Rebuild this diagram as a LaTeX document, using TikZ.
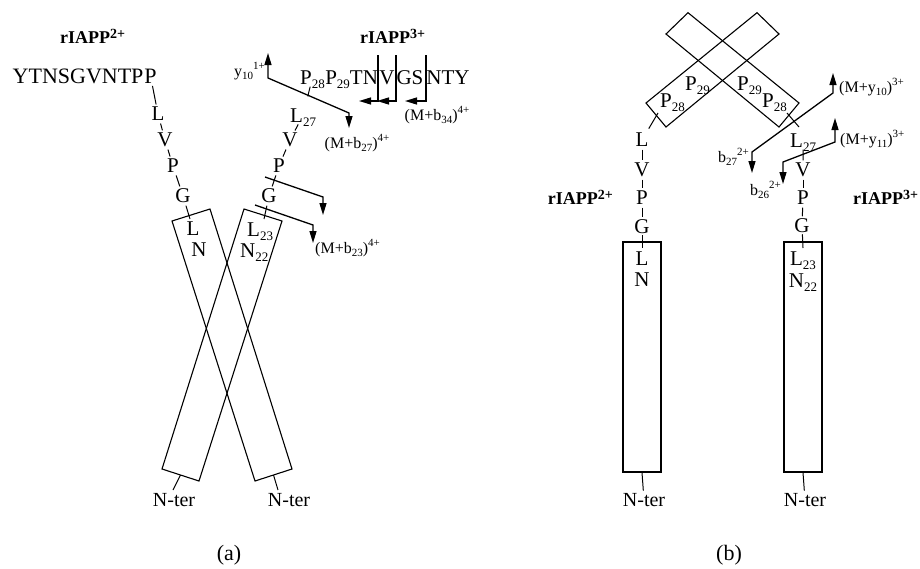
\documentclass[tikz,border=0pt]{standalone}
\usepackage{fontspec}
\setmainfont{Liberation Serif}
\usetikzlibrary{arrows.meta}
\newcommand\resfont{\fontsize{21}{24}\selectfont}
\newcommand\labfont{\fontsize{16}{18}\selectfont}
\newcommand\titfont{\fontsize{18}{20}\selectfont\bfseries}
\newcommand\rsub[1]{\raisebox{-4pt}{\fontsize{13}{13}\selectfont #1}}
\newcommand\lsub[1]{\raisebox{-3pt}{\fontsize{11}{11}\selectfont #1}}
\newcommand\lsup[1]{\raisebox{7pt}{\fontsize{11}{11}\selectfont #1}}
\newcommand\tsup[1]{\raisebox{5pt}{\fontsize{14}{14}\selectfont\bfseries #1}}
\tikzset{
 res/.style={inner sep=0pt, font=\resfont},
 seqtext/.style={inner sep=0pt, font=\fontsize{22}{24}\selectfont},
 ntr/.style={inner sep=0pt, font=\fontsize{20}{22}\selectfont},
 lab/.style={inner sep=0pt, font=\labfont},
 tit/.style={inner sep=0pt, font=\titfont},
 captext/.style={inner sep=0pt, font=\fontsize{22}{24}\selectfont},
 bond/.style={line width=1pt, shorten <=2.5pt, shorten >=2.5pt},
 boxline/.style={line width=1.1pt, line join=miter},
 rbox/.style={draw, line width=1.1pt, minimum width=38pt, minimum height=230pt, inner sep=0pt},
 frag/.style={line width=1.3pt, -{Triangle[length=12pt,width=7pt]}},
 fragtwo/.style={line width=1.3pt, {Triangle[length=12pt,width=7pt]}-{Triangle[length=12pt,width=7pt]}},
}
\begin{document}
\begin{tikzpicture}[x=1pt,y=-1pt]
\useasboundingbox (0,0) rectangle (920,568);
% ================= (a) =================
\node[tit, anchor=base west] (t2a) at (60,43) {rIAPP\tsup{2+}};
\node[tit, anchor=base west] (t3a) at (360,43) {rIAPP\tsup{3+}};
% left chain
\node[seqtext] (pa) at (150.5,76) {P};
\node[seqtext, anchor=base east] (seqa) at ([xshift=-0.5pt]pa.base west) {YTNSGVNTP};
\node[res] (la) at (158,114) {L};
\node[res] (va) at (165,140) {V};
\node[res] (ppa) at (173,166) {P};
\node[res] (ga) at (183,196) {G};
\draw[bond] (pa) -- (la);
\draw[bond] (la) -- (va);
\draw[bond] (va) -- (ppa);
\draw[bond] (ppa) -- (ga);
% boxes
\draw[boxline] (172,221) -- (210,209) -- (292,469) -- (255,481) -- cycle;
\coordinate (lbtop) at (190,219);
\coordinate (lbbot) at (273.5,475);
\draw[boxline] (244,209) -- (282,221) -- (199,481) -- (162,469) -- cycle;
\coordinate (rbtop) at (264,219);
\coordinate (rbbot) at (180.5,475);
\draw[bond, shorten >=0pt] (ga) -- (lbtop);
\node[res] (lin) at (193,229) {L};
\node[res] (nin) at (199,250) {N};
\node[res, anchor=base west, text depth=0pt] (l23a) at (247,236) {L\rsub{23}};
\node[res, anchor=base west, text depth=0pt] (n22a) at (240,257) {N\rsub{22}};
% N-ter
\node[ntr] (nt1) at (174,500) {N-ter};
\node[ntr] (nt2) at (289,500) {N-ter};
\coordinate (nt1t) at (173,490);
\coordinate (nt2t) at (278,490);
\draw[line width=1pt] (rbbot) -- (nt1t);
\draw[line width=1pt] (lbbot) -- (nt2t);
\node[captext] (capa) at (229,555) {(a)};
% right chain
\node[res] (gb) at (269,196) {G};
\node[res] (pb) at (279,166) {P};
\node[res] (vb) at (290,140) {V};
\node[res, anchor=base west, text depth=0pt] (lb) at (290,122) {L\rsub{27}};
\node[res, anchor=base west, text depth=0pt] (p28) at (300,84) {P\rsub{28}};
\node[res, anchor=base west, text depth=0pt] (s1) at (p28.base east) {P\rsub{29}TN};
\node[res, anchor=base] (s2) at (387,84) {V};
\node[res, anchor=base] (s3) at (410,84) {GS};
\node[res, anchor=base] (s4) at (448,84) {NTY};
\draw[bond, shorten >=0pt] (gb) -- (rbtop);
\draw[bond] (gb) -- (pb);
\draw[bond] (pb) -- (vb);
\draw[bond] (vb) -- (lb);
\draw[bond, shorten <=12pt] (lb) -- (p28);
% fragment markers (a)
\coordinate (f1a) at (268,53);
\coordinate (f1b) at (268,78);
\coordinate (f1c) at (349,113);
\coordinate (f1d) at (349,128);
\draw[fragtwo] (f1a) -- (f1b) -- (f1c) -- (f1d);
\node[lab, anchor=base east] (y10) at (265,76) {y\lsub{10}\lsup{1+}};
\node[lab, anchor=base] (mb27) at (357,148) {(M+b\lsub{27})\lsup{4+}};
\coordinate (v1t) at (378,55); \coordinate (v1e) at (359,101);
\coordinate (v2t) at (396,55); \coordinate (v2e) at (377,101);
\coordinate (v3t) at (426,55); \coordinate (v3e) at (405,101);
\draw[frag] (v1t) |- (v1e);
\draw[frag] (v2t) |- (v2e);
\draw[frag] (v3t) |- (v3e);
\node[lab, anchor=base] (mb34) at (437,120) {(M+b\lsub{34})\lsup{4+}};
\coordinate (f2a) at (265,177); \coordinate (f2b) at (323,197); \coordinate (f2c) at (323,215);
\draw[frag] (f2a) -- (f2b) -- (f2c);
\coordinate (f3a) at (255,205); \coordinate (f3b) at (313,225); \coordinate (f3c) at (313,243);
\draw[frag] (f3a) -- (f3b) -- (f3c);
\node[lab, anchor=base west] (mb23) at (315,253) {(M+b\lsub{23})\lsup{4+}};
% ================= (b) =================
\draw[boxline] (646,103) -- (666,127) -- (779,34) -- (757,12.7) -- cycle;
\draw[boxline] (799,103) -- (779,127) -- (666,34) -- (688,12.7) -- cycle;
\node[res, anchor=base west, text depth=0pt] (p28l) at (660,107) {P\rsub{28}};
\node[res, anchor=base west, text depth=0pt] (p29l) at (685,90) {P\rsub{29}};
\node[res, anchor=base west, text depth=0pt] (p29r) at (737,90) {P\rsub{29}};
\node[res, anchor=base west, text depth=0pt] (p28r) at (762,107) {P\rsub{28}};
% left chain (b)
\coordinate (r1in) at (658,113);
\node[res] (lc) at (642,140) {L};
\node[res] (vc) at (642,170) {V};
\node[res] (pc) at (642,198) {P};
\node[res] (gc) at (642,227) {G};
\draw[bond, shorten <=0pt, shorten >=5pt] (r1in) -- (lc);
\draw[bond] (lc) -- (vc);
\draw[bond] (vc) -- (pc);
\draw[bond] (pc) -- (gc);
\node[rbox] (boxc) at (642,357) {};
\coordinate (gct) at (642,248);
\draw[bond, shorten >=0pt, shorten <=1pt] (gc) -- (gct);
\node[res] (lin2) at (642,258.5) {L};
\node[res] (nin2) at (642,280) {N};
\node[ntr] (nt3) at (644,500) {N-ter};
\draw[bond, shorten <=0pt] (boxc.south) -- (nt3);
\node[tit, anchor=base east] (t2b) at (613,204) {rIAPP\tsup{2+}};
% right chain (b)
\coordinate (r2in) at (787,113);
\coordinate (r2out) at (799,127);
\draw[line width=1pt] (r2in) -- (r2out);
\node[res, anchor=base west, text depth=0pt] (ld) at (790,147) {L\rsub{27}};
\node[res] (vd) at (803,170) {V};
\node[res] (pd) at (803,198) {P};
\node[res] (gd) at (802,226) {G};
\draw[bond] (ld) -- (vd);
\draw[bond] (vd) -- (pd);
\draw[bond] (pd) -- (gd);
\node[rbox] (boxd) at (803,357) {};
\coordinate (gdt) at (803,248);
\draw[bond, shorten >=0pt, shorten <=1pt] (gd) -- (gdt);
\node[res, anchor=base, text depth=0pt] (l23b) at (803,265) {L\rsub{23}};
\node[res, anchor=base, text depth=0pt] (n22b) at (803,287) {N\rsub{22}};
\node[ntr] (nt4) at (805,500) {N-ter};
\draw[bond, shorten <=0pt] (boxd.south) -- (nt4);
\node[tit, anchor=base west] (t3b) at (853,204) {rIAPP\tsup{3+}};
% fragment arrows (b)
\coordinate (g1a) at (833,73); \coordinate (g1b) at (833,93);
\coordinate (g1c) at (752,152); \coordinate (g1d) at (752,173);
\draw[fragtwo] (g1a) -- (g1b) -- (g1c) -- (g1d);
\coordinate (g2a) at (835,118); \coordinate (g2b) at (835,142);
\coordinate (g2c) at (783,162); \coordinate (g2d) at (783,184);
\draw[fragtwo] (g2a) -- (g2b) -- (g2c) -- (g2d);
\node[lab, anchor=base west] (my10) at (839,92) {(M+y\lsub{10})\lsup{3+}};
\node[lab, anchor=base west] (my11) at (840,144) {(M+y\lsub{11})\lsup{3+}};
\node[lab, anchor=base east] (b27) at (749,162) {b\lsub{27}\lsup{2+}};
\node[lab, anchor=base east] (b26) at (781,195) {b\lsub{26}\lsup{2+}};
\node[captext] (capb) at (729,555) {(b)};
\end{tikzpicture}
\end{document}
